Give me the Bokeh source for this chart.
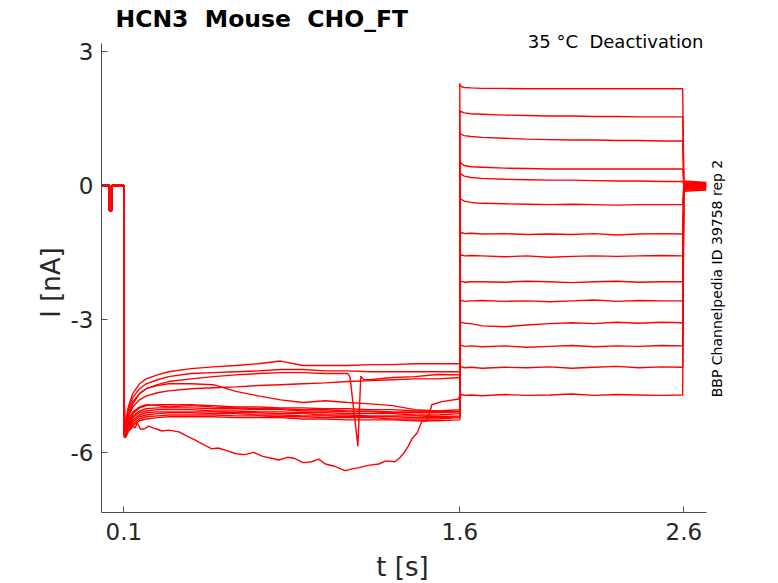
from math import pi
from bokeh.plotting import figure
from bokeh.models import Range1d, FixedTicker, Label, ColumnDataSource
from bokeh.embed import file_html
from bokeh.resources import INLINE

# ---------------- data ----------------
# holding segment (common to all sweeps)
t_hold = [0.0, 0.036, 0.0362, 0.047, 0.0472, 0.0995, 0.1]
i_hold = [0.0, 0.0, -0.56, -0.56, 0.0, 0.0, -2.5]

# first step (0.1 .. 1.6 s), common time grid
t_act = [0.103, 0.11, 0.12, 0.14, 0.17, 0.2, 0.25, 0.3, 0.4, 0.5, 0.6,
         0.7, 0.8, 0.9, 1.0, 1.1, 1.2, 1.3, 1.4, 1.5, 1.6]
a01 = [-5.53, -5.26, -4.97, -4.67, -4.45, -4.34, -4.25, -4.18, -4.11, -4.07, -4.04,
       -4.00, -3.94, -4.04, -4.04, -4.04, -4.02, -4.02, -4.00, -4.00, -4.00]
a02 = [-5.57, -5.30, -5.03, -4.76, -4.56, -4.45, -4.36, -4.29, -4.22, -4.20, -4.18,
       -4.16, -4.13, -4.13, -4.16, -4.16, -4.18, -4.18, -4.18, -4.18, -4.18]
a04 = [-5.57, -5.42, -5.19, -4.97, -4.81, -4.72, -4.65, -4.61, -4.56, -4.54, -4.52,
       -4.49, -4.47, -4.45, -4.43, -4.40, -4.38, -4.36, -4.34, -4.34, -4.31]
a05 = [-5.60, -5.42, -5.19, -4.90, -4.67, -4.56, -4.49, -4.45, -4.45, -4.47, -4.62,
       -4.72, -4.81, -4.87, -4.83, -4.87, -4.90, -4.94, -5.03, -5.06, -5.08]
a06 = [-5.60, -5.48, -5.30, -5.12, -4.99, -4.94, -4.92, -4.92, -4.92, -4.94, -4.97,
       -4.97, -4.99, -4.99, -5.01, -5.01, -5.03, -5.03, -5.06, -5.06, -5.03]
a07 = [-5.62, -5.53, -5.35, -5.17, -5.06, -5.01, -4.99, -4.99, -4.99, -5.01, -5.01,
       -5.03, -5.03, -5.06, -5.06, -5.08, -5.08, -5.10, -5.10, -5.10, -5.08]
a08 = [-5.62, -5.55, -5.39, -5.21, -5.10, -5.06, -5.03, -5.03, -5.03, -5.06, -5.06,
       -5.08, -5.08, -5.10, -5.10, -5.12, -5.12, -5.12, -5.15, -5.15, -5.12]
a09 = [-5.64, -5.57, -5.42, -5.26, -5.15, -5.10, -5.08, -5.08, -5.08, -5.08, -5.10,
       -5.10, -5.12, -5.12, -5.15, -5.15, -5.17, -5.17, -5.17, -5.19, -5.17]
a10 = [-5.64, -5.60, -5.46, -5.30, -5.19, -5.15, -5.12, -5.10, -5.10, -5.12, -5.12,
       -5.15, -5.15, -5.17, -5.17, -5.19, -5.19, -5.19, -5.21, -5.21, -5.19]
a11 = [-5.66, -5.62, -5.48, -5.35, -5.24, -5.19, -5.17, -5.15, -5.15, -5.15, -5.17,
       -5.17, -5.19, -5.19, -5.21, -5.21, -5.21, -5.24, -5.24, -5.24, -5.21]
a12 = [-5.66, -5.64, -5.53, -5.39, -5.28, -5.24, -5.21, -5.19, -5.19, -5.19, -5.21,
       -5.21, -5.21, -5.24, -5.24, -5.26, -5.26, -5.26, -5.28, -5.28, -5.26]
a13 = [-5.60, -5.46, -5.26, -5.08, -4.97, -4.92, -4.94, -4.97, -4.94, -4.97, -4.99,
       -5.01, -5.01, -5.03, -5.03, -5.06, -5.06, -5.08, -5.08, -5.08, -5.06]

# sweep with a brief downward spike during the first step
t_spike = [0.103, 0.11, 0.12, 0.14, 0.17, 0.2, 0.25, 0.3, 0.4, 0.5, 0.6, 0.7, 0.8,
           0.9, 1.0, 1.1, 1.11, 1.145, 1.158, 1.17, 1.2, 1.3, 1.4, 1.5, 1.6]
a03 = [-5.60, -5.35, -5.12, -4.85, -4.67, -4.56, -4.47, -4.40, -4.34, -4.29, -4.25,
       -4.22, -4.20, -4.20, -4.22, -4.22, -4.30, -5.85, -4.28, -4.35, -4.36, -4.31,
       -4.29, -4.24, -4.25]

# sweep with a slow downward excursion during the first step
t_drift = [0.103, 0.11, 0.115, 0.12, 0.13, 0.14, 0.15, 0.16, 0.175, 0.194, 0.21, 0.23,
           0.25, 0.27, 0.3, 0.346, 0.38, 0.417, 0.45, 0.493, 0.52, 0.56, 0.6, 0.64,
           0.68, 0.72, 0.76, 0.792, 0.83, 0.86, 0.9, 0.939, 0.97, 1.0, 1.04, 1.087,
           1.12, 1.15, 1.19, 1.238, 1.27, 1.31, 1.33, 1.354, 1.37, 1.386, 1.41, 1.43,
           1.455, 1.475, 1.52, 1.596]
a14 = [-5.60, -5.35, -5.45, -5.30, -5.48, -5.40, -5.44, -5.33, -5.47, -5.46, -5.40, -5.44,
       -5.47, -5.51, -5.49, -5.53, -5.62, -5.71, -5.80, -5.91, -5.89, -5.95, -6.02, -6.04,
       -5.99, -6.08, -6.12, -6.16, -6.10, -6.12, -6.22, -6.20, -6.14, -6.25, -6.30, -6.40,
       -6.36, -6.33, -6.28, -6.25, -6.18, -6.20, -6.12, -5.98, -5.85, -5.69, -5.55, -5.30,
       -5.28, -4.92, -4.85, -4.79]

# second step (1.6 .. 2.6 s)
t_deact = [1.6, 1.603, 1.61, 1.62, 1.65, 1.7, 1.8, 1.9, 2.0, 2.1, 2.2, 2.3, 2.4, 2.5, 2.595]
d01 = [2.29, 2.24, 2.21, 2.20, 2.19, 2.18, 2.18, 2.17, 2.17, 2.17, 2.17, 2.17, 2.17, 2.17, 2.17]
d02 = [1.68, 1.66, 1.65, 1.63, 1.61, 1.60, 1.58, 1.57, 1.56, 1.56, 1.55, 1.55, 1.54, 1.54, 1.54]
d03 = [1.19, 1.16, 1.14, 1.12, 1.10, 1.08, 1.06, 1.04, 1.03, 1.02, 1.02, 1.01, 1.01, 1.00, 1.00]
d04 = [0.58, 0.52, 0.48, 0.45, 0.42, 0.41, 0.39, 0.38, 0.37, 0.37, 0.37, 0.37, 0.37, 0.37, 0.37]
d05 = [0.31, 0.27, 0.24, 0.21, 0.18, 0.16, 0.14, 0.13, 0.12, 0.12, 0.11, 0.10, 0.10, 0.09, 0.09]
d06 = [-0.26, -0.30, -0.32, -0.35, -0.38, -0.40, -0.41, -0.42, -0.43, -0.42, -0.43, -0.44, -0.43, -0.43, -0.43]
d07 = [-1.04, -1.07, -1.06, -1.08, -1.07, -1.09, -1.08, -1.10, -1.09, -1.10, -1.08, -1.11, -1.09, -1.08, -1.09]
d08 = [-1.54, -1.57, -1.56, -1.58, -1.57, -1.58, -1.60, -1.58, -1.61, -1.59, -1.58, -1.59, -1.58, -1.57, -1.58]
d09 = [-2.14, -2.16, -2.15, -2.17, -2.16, -2.16, -2.17, -2.15, -2.16, -2.18, -2.16, -2.15, -2.17, -2.16, -2.16]
d10 = [-2.57, -2.59, -2.58, -2.60, -2.59, -2.58, -2.60, -2.59, -2.61, -2.59, -2.57, -2.60, -2.58, -2.59, -2.59]
d11 = [-3.06, -3.08, -3.07, -3.09, -3.10, -3.15, -3.17, -3.13, -3.10, -3.08, -3.10, -3.07, -3.09, -3.07, -3.08]
d12 = [-3.58, -3.60, -3.59, -3.61, -3.60, -3.62, -3.60, -3.63, -3.61, -3.59, -3.62, -3.60, -3.61, -3.59, -3.60]
d13 = [-4.06, -4.08, -4.07, -4.09, -4.08, -4.10, -4.08, -4.09, -4.07, -4.10, -4.08, -4.06, -4.09, -4.07, -4.08]
d14 = [-4.68, -4.70, -4.69, -4.71, -4.70, -4.72, -4.69, -4.71, -4.70, -4.68, -4.71, -4.69, -4.70, -4.71, -4.70]

# tail currents after 2.6 s
t_tail = [2.6, 2.7]
tail_start = [0.10, 0.08, 0.06, 0.05, 0.03, 0.02, 0.00, -0.02, -0.03, -0.05, -0.07, -0.09, -0.11, -0.13]
tail_end = [0.07, 0.06, 0.05, 0.04, 0.02, 0.01, 0.00, -0.01, -0.02, -0.03, -0.04, -0.06, -0.08, -0.10]

x_ticks = [0.1, 1.6, 2.6]
x_tick_labels = ["0.1", "1.6", "2.6"]
y_ticks = [3, 0, -3, -6]
y_tick_labels = ["3", "0", "-3", "-6"]
x_axis_span = (0.0, 2.7)       # extent of the drawn time axis [s]
y_axis_span = (-7.34, 3.19)    # extent of the drawn current axis [nA]

# ---------------- build sweeps ----------------
act_sets = [(t_act, a01), (t_act, a02), (t_spike, a03), (t_act, a04), (t_act, a05),
            (t_act, a06), (t_act, a07), (t_act, a08), (t_act, a09), (t_act, a10),
            (t_act, a11), (t_act, a12), (t_act, a13), (t_drift, a14)]
deact_sets = [d01, d02, d03, d04, d05, d06, d07, d08, d09, d10, d11, d12, d13, d14]

xs, ys = [], []
for k in range(14):
    ta, ia = act_sets[k]
    xs.append(list(t_hold) + list(ta) + list(t_deact) + list(t_tail))
    ys.append(list(i_hold) + list(ia) + list(deact_sets[k]) + [tail_start[k], tail_end[k]])

src = ColumnDataSource(data=dict(xs=xs, ys=ys))

FONT = "DejaVu Sans"
TXT = "#262626"
W, H = 778, 583
NB = "\u00a0"

# the frame fills the whole canvas; axes are pinned at the data origin corner
p = figure(width=W, height=H,
           x_range=Range1d(-0.45045, 3.02277), y_range=Range1d(-8.9318, 4.1517),
           output_backend="svg", toolbar_location=None, title=None,
           min_border_left=0, min_border_right=0, min_border_top=0, min_border_bottom=0)
p.outline_line_color = None
p.grid.visible = False
p.background_fill_color = "white"
p.border_fill_color = "white"

p.multi_line(xs="xs", ys="ys", source=src, line_color="#ff0000", line_width=1.4)

xa = p.xaxis[0]
xa.ticker = FixedTicker(ticks=x_ticks)
xa.major_label_overrides = {t: s for t, s in zip(x_ticks, x_tick_labels)}
xa.fixed_location = y_axis_span[0]
xa.bounds = x_axis_span
ya = p.yaxis[0]
ya.ticker = FixedTicker(ticks=y_ticks)
ya.major_label_overrides = {t: s for t, s in zip(y_ticks, y_tick_labels)}
ya.fixed_location = x_axis_span[0]
ya.bounds = y_axis_span
for ax in (xa, ya):
    ax.major_tick_in = 6
    ax.major_tick_out = 0
    ax.minor_tick_line_color = None
    ax.axis_line_color = "#4d4d4d"
    ax.major_tick_line_color = "#4d4d4d"
    ax.major_label_text_font = FONT
    ax.major_label_text_font_size = "23px"
    ax.major_label_text_color = TXT
xa.major_label_standoff = 10
ya.major_label_standoff = 8

def lab(x, y, text, size, **kw):
    p.add_layout(Label(x=x, y=H - y, x_units="screen", y_units="screen", text=text,
                       text_font=FONT, text_font_size=size, text_baseline="middle", **kw))

# texts (anchor = middle of the text box, canvas pixels from the top-left)
lab(115, 18.5, "HCN3 " + NB + "Mouse " + NB + "CHO_FT", "23.5px", text_font_style="bold",
    text_color="black", text_align="left")
lab(703, 40.8, "35 °C " + NB + "Deactivation", "18px", text_color="black", text_align="right")
lab(716, 278, "BBP Channelpedia ID 39758 rep 2", "14px", text_color="black",
    angle=pi / 2, text_align="center")
lab(402, 566, "t [s]", "26px", text_color=TXT, text_align="center")
lab(50, 282, "I [nA]", "26px", text_color=TXT, angle=pi / 2, text_align="center")

open("out.html", "w").write(file_html(p, INLINE))
